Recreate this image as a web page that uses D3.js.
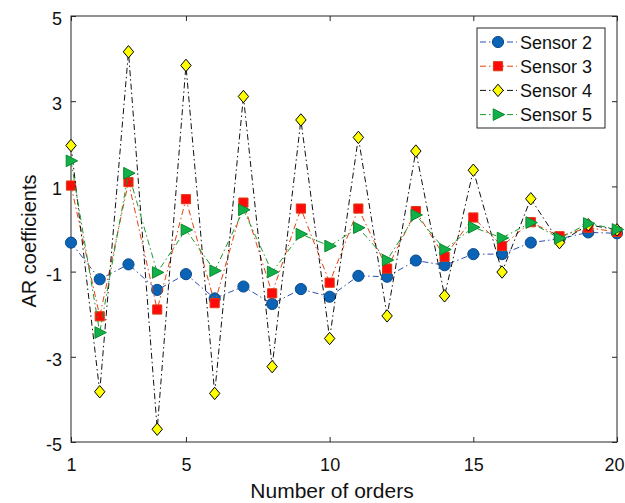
<html>
<head>
  <meta charset='utf-8' />
  <style>
    text { font-family: 'Liberation Sans', Arial, sans-serif; }
  </style>
</head>

<body style='padding: 0; margin: 0; background: white;'>
  <svg id='chart' width='625' height='503'></svg>
</body>

<script src="https://d3js.org/d3.v7.min.js"></script>

<script>
///////////////////
/// Data
///////////////////

  const orders = d3.range(1, 21);

  const sensor2 = [-0.32, -1.18, -0.83, -1.43, -1.06, -1.63, -1.35, -1.76, -1.41, -1.59,
                   -1.10, -1.12, -0.74, -0.85, -0.59, -0.59, -0.32, -0.23, -0.08, -0.10];
  const sensor3 = [1.02, -2.05, 1.10, -1.89, 0.70, -1.74, 0.62, -1.51, 0.48, -1.26,
                   0.48, -0.93, 0.42, -0.65, 0.27, -0.40, 0.16, -0.17, 0.03, -0.07];
  const sensor4 = [1.96, -3.82, 4.16, -4.70, 3.84, -3.86, 3.11, -3.23, 2.56, -2.57,
                   2.15, -2.04, 1.83, -1.57, 1.38, -1.01, 0.71, -0.32, 0.10, -0.02];
  const sensor5 = [1.60, -2.43, 1.31, -1.02, -0.02, -0.98, 0.45, -1.01, -0.12, -0.40,
                   0.03, -0.73, 0.33, -0.48, 0.04, -0.21, 0.15, -0.22, 0.13, -0.01];

  const seriesNames = ['Sensor 2', 'Sensor 3', 'Sensor 4', 'Sensor 5'];
  const xTicks = [1, 5, 10, 15, 20];
  const yTicks = [-5, -3, -1, 1, 3, 5];

  const series = [
    {name: seriesNames[0], values: sensor2, line: '#2f4fb0', fill: '#0a63b5', stroke: '#0b4a8c', shape: 'circle'},
    {name: seriesNames[1], values: sensor3, line: '#e8400c', fill: '#ff0a0a', stroke: '#e03a10', shape: 'square'},
    {name: seriesNames[2], values: sensor4, line: '#111111', fill: '#ffff00', stroke: '#000000', shape: 'diamond'},
    {name: seriesNames[3], values: sensor5, line: '#1b9a2e', fill: '#12b04a', stroke: '#0a8a2a', shape: 'triangle'}
  ];

///////////////////
/// Scales
///////////////////

  const plotL = 71, plotR = 617, plotT = 16, plotB = 442;

  const scaleX = d3.scaleLinear().domain([1, 20]).range([plotL, plotR]);
  const scaleY = d3.scaleLinear().domain([-5, 5]).range([plotB, plotT]);

  const svg = d3.select('#chart');

  // frame
  svg.append('rect')
    .attr('x', plotL).attr('y', plotT)
    .attr('width', plotR - plotL).attr('height', plotB - plotT)
    .attr('fill', 'white').attr('stroke', '#262626').attr('stroke-width', 1);

  const axisStyle = g => {
    g.select('.domain').remove();
    g.selectAll('.tick line').attr('stroke', '#262626');
    g.selectAll('.tick text')
      .attr('fill', '#111')
      .style('font-size', '18px')
      .style('font-family', "'Liberation Sans', Arial, sans-serif");
  };

  const fmt = d => String(d);

  svg.append('g')
    .attr('transform', `translate(0, ${plotB})`)
    .call(d3.axisBottom(scaleX).tickValues(xTicks).tickSize(-5).tickPadding(16).tickFormat(fmt))
    .call(axisStyle)
    // keep the last label inside the window
    .call(g => g.selectAll('.tick text').filter(d => d === 20).attr('dx', -3));

  svg.append('g')
    .attr('transform', `translate(0, ${plotT})`)
    .call(d3.axisTop(scaleX).tickValues(xTicks).tickSize(-5).tickFormat(''))
    .call(axisStyle);

  svg.append('g')
    .attr('transform', `translate(${plotL}, 0)`)
    .call(d3.axisLeft(scaleY).tickValues(yTicks).tickSize(-5).tickPadding(9).tickFormat(fmt))
    .call(axisStyle)
    .call(g => g.selectAll('.tick text').attr('dy', '0.47em'));

  svg.append('g')
    .attr('transform', `translate(${plotR}, 0)`)
    .call(d3.axisRight(scaleY).tickValues(yTicks).tickSize(-5).tickFormat(''))
    .call(axisStyle);

///////////////////
/// Lines and markers
///////////////////

  const line = d3.line()
    .x((d, i) => scaleX(orders[i]))
    .y(d => scaleY(d));

  const symbolPath = {
    circle: d3.symbol().type(d3.symbolCircle).size(98)(),
    square: d3.symbol().type(d3.symbolSquare).size(84)(),
    diamond: 'M0,-6.2L5.2,0L0,6.2L-5.2,0Z',
    triangle: 'M-4.8,-5.8L6.6,0L-4.8,5.8Z'
  };

  const plot = svg.append('g');

  series.forEach(s => {
    const g = plot.append('g');
    g.append('path')
      .datum(s.values)
      .attr('fill', 'none')
      .attr('stroke', s.line)
      .attr('stroke-width', 1)
      .attr('stroke-dasharray', '6,3,1.5,3')
      .attr('d', line);

    g.selectAll('path.marker')
      .data(s.values)
      .enter().append('path')
      .attr('class', 'marker')
      .attr('transform', (d, i) => `translate(${scaleX(orders[i])}, ${scaleY(d)})`)
      .attr('d', symbolPath[s.shape])
      .attr('fill', s.fill)
      .attr('stroke', s.stroke)
      .attr('stroke-width', 1);
  });

///////////////////
/// Legend
///////////////////

  const legend = svg.append('g').attr('transform', 'translate(477, 28)');

  legend.append('rect')
    .attr('width', 128).attr('height', 100)
    .attr('fill', 'white').attr('stroke', '#262626').attr('stroke-width', 1);

  series.forEach((s, i) => {
    const y = 14 + i * 24.2;
    legend.append('line')
      .attr('x1', 3).attr('x2', 40).attr('y1', y).attr('y2', y)
      .attr('stroke', s.line).attr('stroke-width', 1)
      .attr('stroke-dasharray', '6,3,1.5,3');
    legend.append('path')
      .attr('transform', `translate(21, ${y})`)
      .attr('d', symbolPath[s.shape])
      .attr('fill', s.fill).attr('stroke', s.stroke).attr('stroke-width', 1);
    legend.append('text')
      .attr('x', 43).attr('y', y + 6.6)
      .style('font-size', '18px')
      .attr('fill', '#111')
      .text(s.name);
  });

///////////////////
/// Axis titles
///////////////////

  svg.append('text')
    .attr('x', 332)
    .attr('y', 498)
    .attr('text-anchor', 'middle')
    .style('font-size', '21px')
    .attr('fill', '#111')
    .text('Number of orders');

  svg.append('text')
    .attr('transform', `translate(36, 241) rotate(-90)`)
    .attr('text-anchor', 'middle')
    .style('font-size', '20px')
    .attr('fill', '#111')
    .text('AR coefficients');

</script>
</html>
